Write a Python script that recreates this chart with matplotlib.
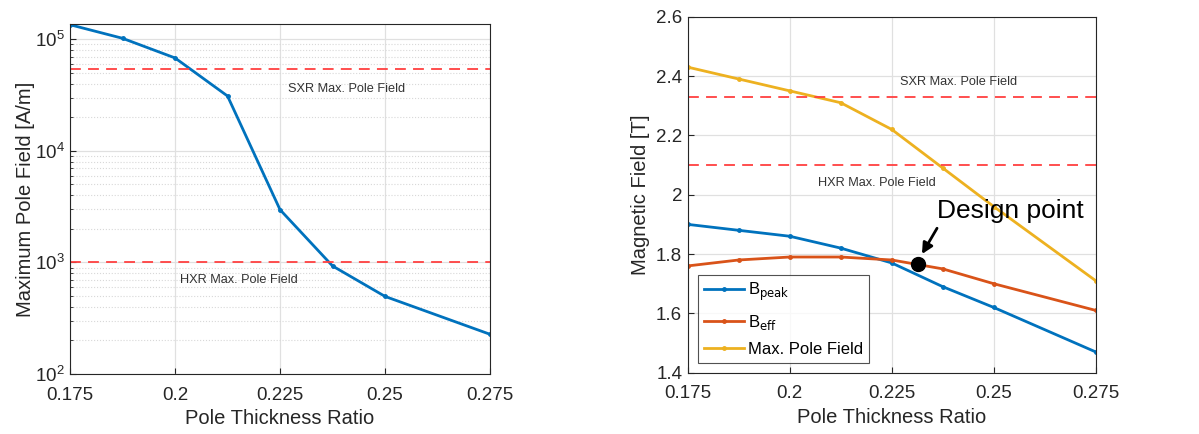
import matplotlib.pyplot as plt
from matplotlib.ticker import LogLocator

plt.rcParams['font.family'] = ['Liberation Sans', 'DejaVu Sans']

# data
ratio = [0.175, 0.1875, 0.2, 0.2125, 0.225, 0.2375, 0.25, 0.275]
pole_field_am = [1.35e5, 1.02e5, 6.8e4, 3.1e4, 2.97e3, 930, 496, 227]
b_peak = [1.90, 1.88, 1.86, 1.82, 1.77, 1.69, 1.62, 1.47]
b_eff = [1.76, 1.78, 1.79, 1.79, 1.78, 1.75, 1.70, 1.61]
max_pole_t = [2.43, 2.39, 2.35, 2.31, 2.22, 2.09, 1.96, 1.71]
sxr_am, hxr_am = 5.4e4, 1.0e3
sxr_t, hxr_t = 2.33, 2.10
design_x, design_y = 0.2315, 1.767
xticks = [0.175, 0.2, 0.225, 0.25, 0.275]
xticklabels = ['0.175', '0.2', '0.225', '0.25', '0.275']

blue, orange, yellow = '#0072BD', '#D95319', '#EDB120'
red = '#ff4040'
grid_c = '#e0e0e0'

fig = plt.figure(figsize=(11.99, 4.34), dpi=100)
ax1 = fig.add_axes([0.0584, 0.1382, 0.3503, 0.8065])
ax2 = fig.add_axes([0.5736, 0.1412, 0.3403, 0.8203])

for ax in (ax1, ax2):
    ax.tick_params(direction='in', labelsize=13.5, length=4, top=False, right=False,
                   color='#262626', labelcolor='#262626')
    ax.tick_params(axis='x', pad=9)
    ax.tick_params(axis='y', pad=4)
    for s in ax.spines.values():
        s.set_color('#262626')
        s.set_linewidth(0.8)
    ax.set_axisbelow(True)
    ax.set_xlim(0.175, 0.275)
    ax.set_xticks(xticks)
    ax.set_xticklabels(xticklabels)
    ax.grid(True, which='major', color=grid_c, linewidth=0.9)
    ax.set_xlabel('Pole Thickness Ratio', fontsize=14.5, color='#262626', labelpad=4)

# left panel
ax1.set_yscale('log')
ax1.set_ylim(100, 1.37e5)
ax1.yaxis.set_minor_locator(LogLocator(base=10, subs=range(2, 10)))
ax1.grid(True, which='minor', axis='y', color='#d8d8d8', linestyle=':', linewidth=0.8)
ax1.tick_params(which='minor', direction='in', length=2.5, color='#262626')
ax1.plot(ratio, pole_field_am, color=blue, lw=2, marker='.', ms=5)
ax1.axhline(sxr_am, color=red, ls='--', lw=1.3, dashes=(6, 4))
ax1.axhline(hxr_am, color=red, ls='--', lw=1.3, dashes=(6, 4))
ax1.text(0.2269, 3.6e4, 'SXR Max. Pole Field', fontsize=9.2, color='#333333', va='center')
ax1.text(0.2012, 690, 'HXR Max. Pole Field', fontsize=9.2, color='#333333', va='center')
ax1.set_ylabel('Maximum Pole Field [A/m]', fontsize=14.5, color='#262626', labelpad=0)

# right panel
ax2.set_ylim(1.4, 2.6)
ax2.set_yticks([1.4, 1.6, 1.8, 2.0, 2.2, 2.4, 2.6])
ax2.set_yticklabels(['1.4', '1.6', '1.8', '2', '2.2', '2.4', '2.6'])
ax2.plot(ratio, b_peak, color=blue, lw=2, marker='.', ms=5, label='B$_{\\mathrm{peak}}$')
ax2.plot(ratio, b_eff, color=orange, lw=2, marker='.', ms=5, label='B$_{\\mathrm{eff}}$')
ax2.plot(ratio, max_pole_t, color=yellow, lw=2, marker='.', ms=5, label='Max. Pole Field')
ax2.axhline(sxr_t, color=red, ls='--', lw=1.3, dashes=(6, 4))
ax2.axhline(hxr_t, color=red, ls='--', lw=1.3, dashes=(6, 4))
ax2.text(0.2270, 2.380, 'SXR Max. Pole Field', fontsize=9.2, color='#333333', va='center')
ax2.text(0.2069, 2.039, 'HXR Max. Pole Field', fontsize=9.2, color='#333333', va='center')
ax2.plot([design_x], [design_y], 'o', color='black', ms=10, zorder=5)
ax2.text(0.2362, 1.945, 'Design point', fontsize=19, color='black', va='center', ha='left')
ax2.annotate('', xy=(0.2324, 1.800), xytext=(0.2361, 1.887),
             arrowprops=dict(arrowstyle='-|>', color='black', lw=2,
                             mutation_scale=16, shrinkA=0, shrinkB=0))
ax2.set_ylabel('Magnetic Field [T]', fontsize=14.5, color='#262626')
leg = ax2.legend(loc='lower left', fontsize=12, frameon=True, fancybox=False,
                 edgecolor='#262626', handlelength=2.4, borderpad=0.35,
                 labelspacing=0.6, handletextpad=0.25, borderaxespad=0.6)
leg.get_frame().set_linewidth(0.8)

fig.savefig('out.png', dpi=100)
